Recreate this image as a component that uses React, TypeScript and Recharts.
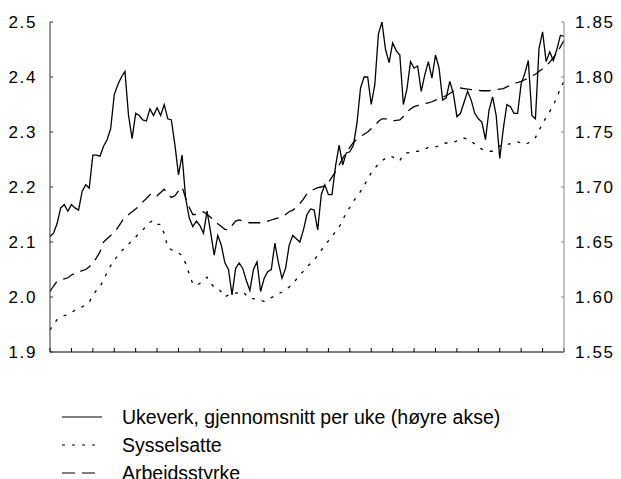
import { LineChart, Line, XAxis, YAxis } from "recharts";

// Ukeverk, monthly-ish points (right axis, millions)
const ukeverk = [
  1.655, 1.658, 1.667, 1.681, 1.684, 1.678, 1.684, 1.681, 1.679, 1.696,
  1.702, 1.699, 1.729, 1.729, 1.728, 1.737, 1.743, 1.753, 1.784, 1.793,
  1.8, 1.805, 1.765, 1.744, 1.767, 1.765, 1.761, 1.76, 1.771, 1.765,
  1.772, 1.765, 1.775, 1.762, 1.761, 1.738, 1.711, 1.729, 1.69, 1.672,
  1.664, 1.669, 1.665, 1.658, 1.678, 1.659, 1.638, 1.656, 1.647, 1.631,
  1.625, 1.602, 1.626, 1.631, 1.626, 1.615, 1.606, 1.625, 1.632, 1.605,
  1.617, 1.623, 1.625, 1.649, 1.631, 1.617, 1.626, 1.647, 1.656, 1.653,
  1.65, 1.661, 1.675, 1.68, 1.679, 1.661, 1.693, 1.702, 1.693, 1.693,
  1.719, 1.738, 1.72, 1.731, 1.732, 1.738, 1.758, 1.79, 1.8, 1.8,
  1.775, 1.793, 1.839, 1.85, 1.825, 1.813, 1.831, 1.824, 1.82, 1.775,
  1.789, 1.814, 1.808, 1.81, 1.787, 1.802, 1.814, 1.799, 1.82, 1.808,
  1.779, 1.781, 1.796, 1.785, 1.764, 1.767, 1.777, 1.787, 1.779, 1.767,
  1.762, 1.759, 1.743, 1.77, 1.782, 1.765, 1.726, 1.753, 1.775, 1.773,
  1.767, 1.767, 1.794, 1.803, 1.815, 1.765, 1.762, 1.826, 1.841, 1.814,
  1.823, 1.815, 1.825, 1.838, 1.837,
];

const sysselsatte = [
  1.94, 1.95, 1.959, 1.963, 1.966, 1.968, 1.972, 1.976, 1.979, 1.982,
  1.986, 1.991, 2.003, 2.012, 2.019, 2.031, 2.045, 2.057, 2.067, 2.075,
  2.083, 2.09, 2.096, 2.103, 2.109, 2.116, 2.122, 2.129, 2.136, 2.139,
  2.132, 2.132, 2.115, 2.09, 2.086, 2.083, 2.08, 2.075, 2.061, 2.042,
  2.024, 2.021, 2.025, 2.03, 2.036, 2.025, 2.018, 2.016, 2.009, 2.0,
  2.004, 2.006, 2.007, 2.008, 2.01, 2.003, 1.997, 1.997, 1.996, 1.994,
  1.992, 1.995, 1.999, 2.002, 2.006, 2.009, 2.013, 2.018, 2.024, 2.032,
  2.04, 2.047, 2.055, 2.061, 2.067, 2.076, 2.085, 2.094, 2.102, 2.11,
  2.119, 2.127, 2.14, 2.153, 2.163, 2.174, 2.183, 2.192, 2.203, 2.214,
  2.226, 2.234, 2.242, 2.248, 2.252, 2.256, 2.255, 2.249, 2.248, 2.259,
  2.262, 2.263, 2.264, 2.265, 2.267, 2.269, 2.272, 2.272, 2.273, 2.275,
  2.279, 2.28, 2.279, 2.281, 2.284, 2.286, 2.289, 2.287, 2.283, 2.278,
  2.272, 2.269, 2.266, 2.265, 2.265, 2.27, 2.275, 2.276, 2.277, 2.279,
  2.28, 2.282, 2.28, 2.277, 2.28, 2.284, 2.29, 2.303, 2.315, 2.327,
  2.337, 2.349, 2.362, 2.38, 2.392,
];

const arbeidsstyrke = [
  2.01, 2.02, 2.029, 2.031, 2.033, 2.035, 2.04, 2.043, 2.045, 2.048,
  2.05, 2.055, 2.062, 2.071, 2.082, 2.1, 2.106, 2.112, 2.118, 2.126,
  2.136, 2.146, 2.15, 2.155, 2.16, 2.166, 2.173, 2.179, 2.186, 2.189,
  2.184, 2.19, 2.196, 2.187, 2.181, 2.184, 2.193, 2.2, 2.18, 2.163,
  2.15, 2.15, 2.152, 2.155, 2.15, 2.145, 2.138, 2.133, 2.128, 2.123,
  2.122, 2.13, 2.138, 2.14, 2.138, 2.136, 2.135, 2.135, 2.135, 2.135,
  2.136, 2.138, 2.14, 2.142, 2.144, 2.146, 2.15, 2.155, 2.158, 2.163,
  2.17, 2.178, 2.188, 2.192, 2.196, 2.199, 2.2, 2.203, 2.208, 2.218,
  2.228, 2.24, 2.252, 2.263, 2.272, 2.281, 2.287, 2.292, 2.296, 2.3,
  2.306, 2.312, 2.319, 2.324, 2.324, 2.322, 2.32, 2.321, 2.322, 2.328,
  2.336, 2.342, 2.346, 2.348, 2.35, 2.352, 2.353, 2.355, 2.358, 2.36,
  2.363, 2.366, 2.37, 2.374, 2.378, 2.38, 2.379, 2.378, 2.377, 2.376,
  2.376, 2.375, 2.375, 2.375, 2.376, 2.377, 2.378, 2.379, 2.382, 2.385,
  2.388, 2.39, 2.392, 2.395, 2.398, 2.402, 2.405, 2.41, 2.415, 2.42,
  2.427, 2.435, 2.443, 2.455, 2.466,
];

const leftTicks = [1.9, 2.0, 2.1, 2.2, 2.3, 2.4, 2.5];
const rightTicks = [1.55, 1.6, 1.65, 1.7, 1.75, 1.8, 1.85];
const xTicks = Array.from({ length: 25 }, (_, k) => k * 6); // one per year

const legendItems = [
  { name: "Ukeverk, gjennomsnitt per uke (høyre akse)", dash: undefined },
  { name: "Sysselsatte", dash: "3 7" },
  { name: "Arbeidsstyrke", dash: "13 7" },
];

const data = ukeverk.map((u, i) => ({
  i,
  ukeverk: u,
  sysselsatte: sysselsatte[i],
  arbeidsstyrke: arbeidsstyrke[i],
}));

const font = "Arial, 'Liberation Sans', sans-serif";
const tickStyle = { fontSize: 17, fill: "#000", fontFamily: font, letterSpacing: 1.6 };

export default function App() {
  return (
    <div style={{ position: "absolute", left: 0, top: 0, width: 621, height: 479, background: "#fff", overflow: "hidden" }}>
      <LineChart width={621} height={380} data={data} margin={{ top: 22, right: 0, bottom: 18, left: 0 }}>
        <XAxis
          dataKey="i"
          type="number"
          domain={[0, 144]}
          ticks={xTicks}
          tickFormatter={() => ""}
          height={10}
          tickSize={-4}
          stroke="#000"
          axisLine={{ stroke: "#000" }}
          tickLine={{ stroke: "#000" }}
        />
        <YAxis
          yAxisId="left"
          orientation="left"
          width={50}
          domain={[1.9, 2.5]}
          ticks={leftTicks}
          allowDataOverflow
          tickFormatter={(v: number) => v.toFixed(1)}
          tick={tickStyle}
          tickSize={-3}
          tickMargin={16}
          axisLine={{ stroke: "#333" }}
          tickLine={{ stroke: "#333" }}
        />
        <YAxis
          yAxisId="right"
          orientation="right"
          width={57}
          domain={[1.55, 1.85]}
          ticks={rightTicks}
          allowDataOverflow
          tickFormatter={(v: number) => v.toFixed(2)}
          tick={{ ...tickStyle, textAnchor: "start" }}
          tickSize={-3}
          tickMargin={14}
          axisLine={{ stroke: "#888" }}
          tickLine={{ stroke: "#888" }}
        />
        <Line yAxisId="right" dataKey="ukeverk" stroke="#000" strokeWidth={1.3} dot={false} isAnimationActive={false} />
        <Line yAxisId="left" dataKey="sysselsatte" stroke="#000" strokeWidth={1.3} strokeDasharray="3 7" dot={false} isAnimationActive={false} />
        <Line yAxisId="left" dataKey="arbeidsstyrke" stroke="#000" strokeWidth={1.3} strokeDasharray="12 7" dot={false} isAnimationActive={false} />
      </LineChart>

      {/* Legend */}
      <div style={{ position: "absolute", left: 0, top: 403, fontFamily: font, fontSize: 19.5, color: "#000" }}>
        {legendItems.map((item) => (
          <div key={item.name} style={{ display: "flex", alignItems: "center", height: 28 }}>
            <svg width={122} height={28}>
              <line x1={62} x2={102} y1={14} y2={14} stroke="#000" strokeWidth={1.2} strokeDasharray={item.dash} />
            </svg>
            <span style={{ whiteSpace: "nowrap" }}>{item.name}</span>
          </div>
        ))}
      </div>
    </div>
  );
}
